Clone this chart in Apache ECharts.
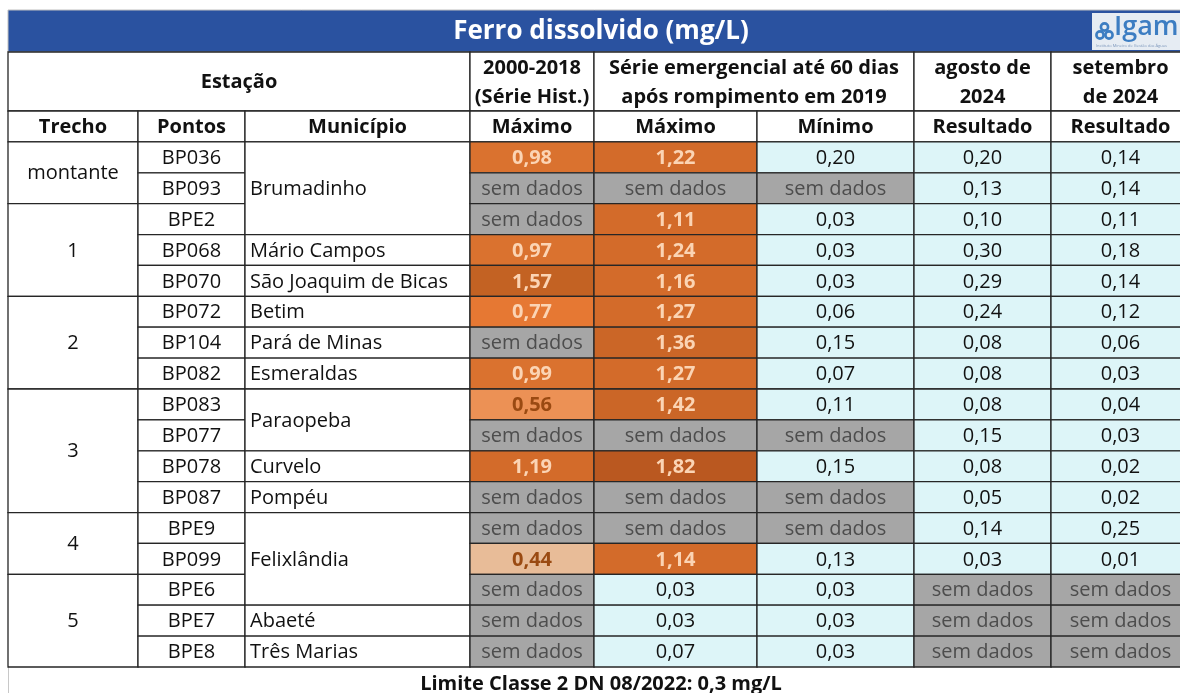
<!DOCTYPE html>
<html>
<head>
<meta charset="utf-8">
<script src="https://cdn.jsdelivr.net/npm/echarts@6/dist/echarts.min.js"></script>
<style>
  html, body { margin: 0; padding: 0; background: #fff; }
  #main { width: 1180px; height: 693px; }
</style>
</head>
<body>
<div id="main"></div>
<script>
// dados da tabela (null = sem dados)
const groupHeaders = ['Estação', '2000-2018\n(Série Hist.)', 'Série emergencial até 60 dias\napós rompimento em 2019', 'agosto de\n2024', 'setembro\nde 2024'];
const groupSpans = [3, 1, 2, 1, 1];
const columnHeaders = ['Trecho', 'Pontos', 'Município', 'Máximo', 'Máximo', 'Mínimo', 'Resultado', 'Resultado'];

const trechos = ['montante', '1', '2', '3', '4', '5'];
const trechoRows = [2, 3, 3, 4, 2, 3];

const pontos = ['BP036', 'BP093', 'BPE2', 'BP068', 'BP070', 'BP072', 'BP104', 'BP082', 'BP083', 'BP077', 'BP078', 'BP087', 'BPE9', 'BP099', 'BPE6', 'BPE7', 'BPE8'];

const municipios = ['Brumadinho', 'Mário Campos', 'São Joaquim de Bicas', 'Betim', 'Pará de Minas', 'Esmeraldas', 'Paraopeba', 'Curvelo', 'Pompéu', 'Felixlândia', 'Abaeté', 'Três Marias'];
const municipioRows = [3, 1, 1, 1, 1, 1, 2, 1, 1, 3, 1, 1];

const historicoMax = [0.98, null, null, 0.97, 1.57, 0.77, null, 0.99, 0.56, null, 1.19, null, null, 0.44, null, null, null];
const emergenciaMax = [1.22, null, 1.11, 1.24, 1.16, 1.27, 1.36, 1.27, 1.42, null, 1.82, null, null, 1.14, 0.03, 0.03, 0.07];
const emergenciaMin = [0.20, null, 0.03, 0.03, 0.03, 0.06, 0.15, 0.07, 0.11, null, 0.15, null, null, 0.13, 0.03, 0.03, 0.03];
const agosto2024 = [0.20, 0.13, 0.10, 0.30, 0.29, 0.24, 0.08, 0.08, 0.08, 0.15, 0.08, 0.05, 0.14, 0.03, null, null, null];
const setembro2024 = [0.14, 0.14, 0.11, 0.18, 0.14, 0.12, 0.06, 0.03, 0.04, 0.03, 0.02, 0.02, 0.25, 0.01, null, null, null];

const limite = 0.3;

// layout (eixo x em px a partir da borda esquerda da tabela)
const colEdges = [0, 130, 237, 462, 586, 749, 906, 1043, 1182];
const H1 = 1.91;          // altura da 1a linha de cabeçalho (em linhas)
const bodyTop = H1 + 1;
const totalRows = bodyTop + pontos.length;
const FONT = '"Open Sans", "Noto Sans", sans-serif';

// escala de cores (acima do limite)
const orangeSteps = [
  [0.50, '#E8BC98'], [0.65, '#EC9155'], [0.90, '#E67833'], [1.05, '#DA722F'],
  [1.30, '#D36B2A'], [1.50, '#CB6627'], [1.70, '#C36223'], [99, '#BA5820']
];
function cellStyle(v) {
  if (v == null) return { fill: '#A6A6A6', color: '#4D4D4D', bold: false, text: 'sem dados' };
  const text = v.toFixed(2).replace('.', ',');
  if (v <= limite) return { fill: '#DDF5F8', color: '#111', bold: false, text };
  const fill = orangeSteps.find(s => v <= s[0])[1];
  return { fill, color: v < 0.65 ? '#9A4A12' : '#FBD4B4', bold: true, text };
}

const cells = [];
function addCell(c0, c1, r0, r1, o) {
  cells.push(Object.assign({ c0, c1, r0, r1, fill: '#fff', color: '#111', bold: false, align: 'center' }, o));
}

// cabeçalhos
let c = 0;
groupHeaders.forEach((t, i) => {
  addCell(c, c + groupSpans[i], 0, H1, { text: t, bold: true });
  c += groupSpans[i];
});
columnHeaders.forEach((t, i) => addCell(i, i + 1, H1, bodyTop, { text: t, bold: true }));

// trechos
let r = bodyTop;
trechos.forEach((t, i) => {
  addCell(0, 1, r, r + trechoRows[i], { text: t });
  r += trechoRows[i];
});
// pontos
pontos.forEach((p, i) => addCell(1, 2, bodyTop + i, bodyTop + i + 1, { text: p }));
// municípios
r = bodyTop;
municipios.forEach((m, i) => {
  addCell(2, 3, r, r + municipioRows[i], { text: m, align: 'left' });
  r += municipioRows[i];
});
// valores
[historicoMax, emergenciaMax, emergenciaMin, agosto2024, setembro2024].forEach((arr, k) => {
  arr.forEach((v, i) => addCell(3 + k, 4 + k, bodyTop + i, bodyTop + i + 1, cellStyle(v)));
});

function renderItem(params, api) {
  const cell = cells[api.value(4)];
  const p0 = api.coord([api.value(0), api.value(1)]);
  const p1 = api.coord([api.value(2), api.value(3)]);
  const w = p1[0] - p0[0], h = p1[1] - p0[1];
  const left = cell.align === 'left';
  return {
    type: 'group',
    children: [
      {
        type: 'rect',
        shape: { x: p0[0], y: p0[1], width: w, height: h },
        style: { fill: cell.fill, stroke: '#262626', lineWidth: 1.3 }
      },
      {
        type: 'text',
        x: left ? p0[0] + 5 : p0[0] + w / 2,
        y: p0[1] + h / 2 + 1,
        style: {
          text: cell.text,
          fill: cell.color,
          font: (cell.bold ? 'bold ' : '') + '20px ' + FONT,
          align: left ? 'left' : 'center',
          verticalAlign: 'middle',
          textAlign: left ? 'left' : 'center',
          textVerticalAlign: 'middle',
          lineHeight: 29
        }
      }
    ]
  };
}

const chart = echarts.init(document.getElementById('main'));
chart.setOption({
  animation: false,
  title: [
    {
      text: 'Ferro dissolvido (mg/L)',
      left: 596, top: 14, textAlign: 'center',
      textStyle: { color: '#fff', fontSize: 26, fontWeight: 'bold', fontFamily: FONT }
    },
    {
      text: 'Limite Classe 2 DN 08/2022: 0,3 mg/L',
      left: 596, top: 669, textAlign: 'center',
      textStyle: { color: '#111', fontSize: 20, fontWeight: 'bold', fontFamily: FONT }
    }
  ],
  grid: { left: 8, top: 52, width: 1172, height: 615 },
  xAxis: { type: 'value', min: 0, max: 1172, show: false },
  yAxis: { type: 'value', min: 0, max: totalRows, inverse: true, show: false },
  graphic: [
    { type: 'rect', z: -1, shape: { x: 8, y: 10, width: 1180, height: 42 }, style: { fill: '#2A52A0', stroke: '#BFBFBF', lineWidth: 1 } },
    { type: 'line', shape: { x1: 8.5, y1: 667, x2: 8.5, y2: 693 }, style: { stroke: '#C8C8C8', lineWidth: 1 } },
    {
      type: 'group', left: 1092, top: 13,
      children: [
        { type: 'rect', shape: { x: 0, y: 0, width: 90, height: 37 }, style: { fill: '#E6ECF3' } },
        { type: 'circle', shape: { cx: 8, cy: 22, r: 3.6 }, style: { fill: 'none', stroke: '#3C7DC2', lineWidth: 2.6 } },
        { type: 'circle', shape: { cx: 17, cy: 22, r: 3.6 }, style: { fill: 'none', stroke: '#3C7DC2', lineWidth: 2.6 } },
        { type: 'circle', shape: { cx: 12.5, cy: 14, r: 3.6 }, style: { fill: 'none', stroke: '#3C7DC2', lineWidth: 2.6 } },
        { type: 'text', x: 22, y: 1, style: { text: 'Igam', fill: '#3C7DC2', font: '600 27px ' + FONT } },
        { type: 'text', x: 4, y: 31, style: { text: 'Instituto Mineiro de Gestão das Águas', fill: '#7F99BD', font: '4px ' + FONT } }
      ]
    }
  ],
  series: [{
    type: 'custom',
    silent: true,
    clip: false,
    renderItem,
    data: cells.map((cl, i) => [colEdges[cl.c0], cl.r0, colEdges[cl.c1], cl.r1, i])
  }]
});
</script>
</body>
</html>
